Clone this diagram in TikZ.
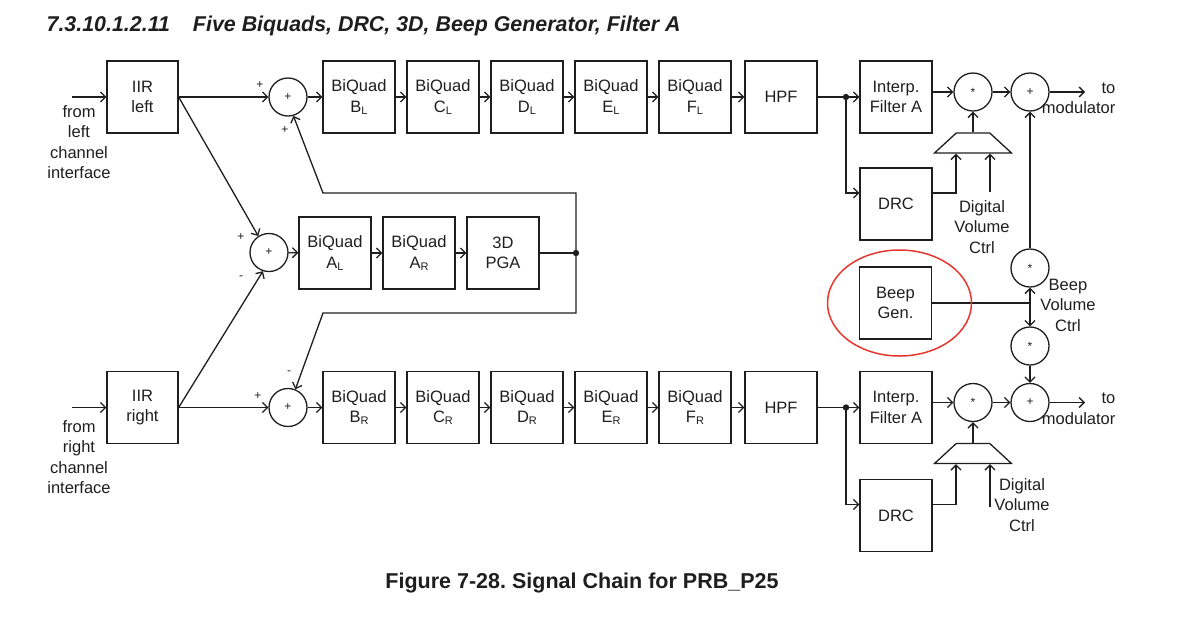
\documentclass[tikz,border=0pt]{standalone}
\usepackage{fontspec}
\setmainfont{Liberation Sans}
\definecolor{ink}{RGB}{30,30,30}
\definecolor{ringRed}{RGB}{230,55,45}
\usetikzlibrary{shapes.geometric, arrows.meta, positioning, calc}

\tikzset{
  sig/.style={-{Straight Barb[length=5pt,width=10pt]}},
  blk/.style={draw, minimum width=72pt, minimum height=72pt, inner sep=0pt, align=center},
  sumc/.style={draw, circle, minimum size=38pt, inner sep=0pt, font=\fontsize{12}{12}\selectfont},
  vol/.style={draw, trapezium, trapezium stretches=true, minimum width=77pt,
              minimum height=20pt, trapezium angle=57, inner sep=1pt},
  sgn/.style={font=\fontsize{12}{12}\selectfont, inner sep=0pt},
  lbl/.style={align=center, inner sep=0pt},
}
\newcommand{\chan}[2]{#1{\fontsize{11}{11}\selectfont\raisebox{-0.15em}{#2}}}

\begin{document}
\begin{tikzpicture}[x=1pt, y=-1pt, line width=1.3pt, color=ink,
                    font=\fontsize{16.5}{20.5}\selectfont]
    \useasboundingbox (0,0) rectangle (1200,622);

    % Heading and caption
    \node[anchor=base west, inner sep=0pt, font=\fontsize{21.4}{21.4}\selectfont\bfseries\itshape] (title) at (46,31)
        {7.3.10.1.2.11\hspace{23pt}Five Biquads, DRC, 3D, Beep Generator, Filter A};
    \node[anchor=base, inner sep=0pt, font=\fontsize{21.5}{21.5}\selectfont\bfseries] (caption) at (582,588)
        {Figure 7-28.\ Signal Chain for PRB\_P25};

    % IIR input stage
    \node[blk, minimum width=71pt] (iirL) at (142.5,97) {IIR\\left};
    \node[blk, minimum width=71pt] (iirR) at (142.5,407.5) {IIR\\right};
    \coordinate (inL) at (72,97);
    \coordinate (inR) at (72,407.5);
    \node[lbl] (srcL) at (79,142) {from\\left\\channel\\interface};
    \node[lbl] (srcR) at (79,457) {from\\right\\channel\\interface};
    \draw[sig] (inL) -- (iirL);
    \draw[sig] (inR) -- (iirR);

    % Summing junctions
    \node[sumc] (sumL) at (288,97) {+};
    \node[sumc] (sumM) at (269,252.5) {+};
    \node[sumc] (sumR) at (288,407.5) {+};
    \node[sgn] at (260,85) {+};
    \node[sgn] at (285,130) {+};
    \node[sgn] at (241,237) {+};
    \node[sgn] at (241,278) {-};
    \node[sgn] at (258,396) {+};
    \node[sgn] at (289,373) {-};

    \draw[sig] (iirL.east) -- (sumL.west);
    \draw[sig] (iirR.east) -- (sumR.west);
    \draw[sig] (iirL.east) -- (sumM.123);
    \draw[sig] (iirR.east) -- (sumM.-108);

    % BiQuad chains
    \foreach \q/\x in {B/359, C/443, D/527, E/611, F/695} {
        \node[blk] (bq\q L) at (\x,97) {BiQuad\\\chan{\q}{L}};
        \node[blk] (bq\q R) at (\x,407.5) {BiQuad\\\chan{\q}{R}};
    }
    \node[blk] (hpfL) at (781,97) {HPF};
    \node[blk] (hpfR) at (781,407.5) {HPF};
    \foreach \a/\b in {sumL/bqBL, bqBL/bqCL, bqCL/bqDL, bqDL/bqEL, bqEL/bqFL, bqFL/hpfL,
                       sumR/bqBR, bqBR/bqCR, bqCR/bqDR, bqDR/bqER, bqER/bqFR, bqFR/hpfR} {
        \draw[sig] (\a) -- (\b);
    }

    % 3D path with feedback
    \node[blk] (bqAL) at (335,253) {BiQuad\\\chan{A}{L}};
    \node[blk] (bqAR) at (419,253) {BiQuad\\\chan{A}{R}};
    \node[blk] (pga) at (503,253) {3D\\PGA};
    \coordinate (j3d) at (576,253);
    \coordinate (fbL) at (323,193);
    \coordinate (fbR) at (323,313);
    \draw[sig] (sumM) -- (bqAL);
    \draw[sig] (bqAL) -- (bqAR);
    \draw[sig] (bqAR) -- (pga);
    \draw (pga) -- (j3d);
    \fill (j3d) circle (3.2pt);
    \draw[sig] (j3d) |- (fbL) -- (sumL.-74);
    \draw[sig] (j3d) |- (fbR) -- (sumR.68);

    % Output stages
    \foreach \s/\y/\d in {L/97/204, R/407.5/515.5} {
        \coordinate (tap\s) at (846,\y);
        \node[blk] (interp\s) at (896,\y) {Interp.\\Filter A};
        \node[blk] (drc\s) at (896,\d) {DRC};
        \node[vol] (vol\s) at (973,{\y+46}) {};
        \node[sumc] (mul\s) at (973,{\y-5}) {*};
        \node[sumc] (add\s) at (1030,{\y-5}) {+};
        \coordinate (out\s) at (1085,{\y-5});
        \draw (hpf\s) -- (tap\s);
        \fill (tap\s) circle (3.2pt);
        \draw[sig] (tap\s) -- (interp\s);
        \draw[sig] (tap\s) |- ([yshift=11pt]drc\s.west);
        \draw[sig] ([yshift=11pt]drc\s.east) -| ([xshift=-17pt]vol\s.south);
        \draw[sig] (vol\s.north) -- (mul\s.south);
        \draw[sig] ([yshift=5pt]interp\s.east) -- (mul\s.west);
        \draw[sig] (mul\s) -- (add\s);
        \draw[sig] (add\s) -- (out\s);
        \node[lbl, align=right, anchor=north east] at (1116,{\y-15}) {to\\modulator};
    }
    \coordinate (dvL) at (990,192);
    \coordinate (dvR) at (990,507);
    \draw[sig] (dvL) -- (dvL |- volL.south);
    \draw[sig] (dvR) -- (dvR |- volR.south);
    \node[lbl] at (982,227) {Digital\\Volume\\Ctrl};
    \node[lbl] at (1022,505) {Digital\\Volume\\Ctrl};

    % Beep generator
    \node[blk] (beep) at (895.5,303) {Beep\\Gen.};
    \node[sumc] (beepUp) at (1030,268) {*};
    \node[sumc] (beepDn) at (1030,346) {*};
    \coordinate (bj) at (1030,303);
    \draw (beep) -- (bj);
    \draw[sig] (bj) -- (beepUp);
    \draw[sig] (bj) -- (beepDn);
    \draw[sig] (beepUp) -- (addL);
    \draw[sig] (beepDn) -- (addR);
    \node[lbl] at (1068,305) {Beep\\Volume\\Ctrl};
    \draw[ringRed, line width=1.5pt] ([xshift=4pt]beep.center) ellipse [x radius=72pt, y radius=53pt];
\end{tikzpicture}
\end{document}
